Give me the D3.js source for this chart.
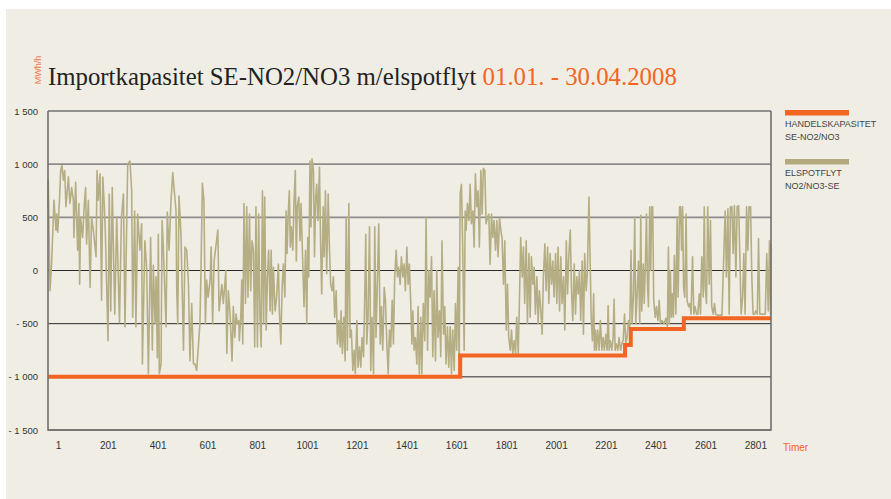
<!DOCTYPE html>
<html><head><meta charset="utf-8">
<script src="https://cdn.jsdelivr.net/npm/d3@7"></script>
<style>
html,body{margin:0;padding:0;background:#fff;}
svg{display:block;}
</style></head>
<body>
<svg id="chart" width="891" height="499"></svg>
<script>
// ---- DATA ----
const titleMain = "Importkapasitet SE-NO2/NO3 m/elspotflyt ";
const titleDate = "01.01. - 30.04.2008";
const yUnit = "MWh/h";
const xUnit = "Timer";
const yTicks = [1500, 1000, 500, 0, -500, -1000, -1500];
const yTickLabels = ["1 500", "1 000", "500", "0", "- 500", "- 1 000", "- 1 500"];
const xTicks = [1, 201, 401, 601, 801, 1001, 1201, 1401, 1601, 1801, 2001, 2201, 2401, 2601, 2801];
const hourDomain = [1, 2904];
const seriesNames = [["HANDELSKAPASITET", "SE-NO2/NO3"], ["ELSPOTFLYT", "NO2/NO3-SE"]];

// Handelskapasitet (trading capacity), step values
const capHours  = [1, 1656, 2318, 2341, 2554, 2904];
const capValues = [-1000, -800, -700, -550, -450, -450];

// Elspotflyt NO2/NO3-SE (hourly flow)
const flowHours = [
1,2,9,16,20,25,33,36,40,47,52,57,63,68,73,83,89,96,103,105,112,120,125,128,132,140,147,152,156,163,170,176,183,194,198,203,210,216,221,226,231,242,247,253,259,269,277,288,296,304,310,321,330,337,341,349,354,361,370,377,380,390,397,404,413,420,424,431,435,440,444,448,455,459,464,475,480,487,495,502,508,515,518,522,527,535,545,551,558,565,571,578,585,591,598,611,615,621,627,633,638,644,652,656,662,668,683,688,699,705,715,719,725,732,
740,745,751,756,761,767,769,775,779,783,788,794,799,804,810,815,820,826,831,836,842,847,852,857,862,867,871,877,882,887,893,897,902,906,913,919,926,930,936,941,946,952,957,961,965,970,974,978,984,989,994,998,1002,1008,1013,1017,1024,1029,1035,1040,1044,1048,1053,1057,1061,1067,1071,1076,1080,1085,1091,1096,1100,1106,1110,1115,1120,1126,1131,1136,1142,1147,1152,1158,1163,1169,1174,1178,1183,1189,1194,1198,1203,1209,1214,1219,1225,1230,1235,1241,1246,1252,1257,1262,1268,1273,1277,1281,1286,1292,1297,1302,1308,1313,1318,1324,1329,1335,1340,1345,1351,1356,1361,1367,1372,1377,1383,1388,1393,1399,1404,1409,1415,1420,1426,1431,1436,1442,1447,1452,
1458,1462,1466,1471,1476,1482,1487,1492,1498,1502,1508,1514,1519,1525,1530,1535,1541,1546,1551,1557,1562,1567,1573,1578,1583,1589,1594,1599,1605,1610,1616,1621,1626,1632,1637,1642,1648,1652,1656,1661,1666,1672,1676,1680,1685,1691,1696,1701,1707,1712,1717,1723,1728,1733,1739,1744,1749,1755,1760,1766,1771,1776,1782,1787,1792,1798,1803,1808,1814,1819,1824,1830,1835,1841,1846,1851,1857,1862,1867,1873,1878,1883,1889,1894,1899,1905,1910,1915,1921,1926,1932,1937,1942,1948,1953,1958,1964,1969,1974,1980,1985,1990,1996,2001,2007,2012,2017,2023,2028,2033,2039,2044,2049,2055,2060,2065,2071,2076,2082,2087,2092,2098,2103,2108,2114,2119,2124,2130,2135,2140,2146,2151,2156,2162,2167,2173,
2182,2187,2192,2195,2199,2203,2208,2214,2219,2225,2230,2235,2241,2246,2250,2254,2259,2265,2270,2274,2278,2283,2289,2294,2300,2305,2310,2316,2321,2326,2332,2337,2342,2346,2352,2357,2361,2366,2372,2377,2381,2385,2391,2395,2400,2404,2408,2412,2417,2421,2425,2429,2433,2439,2444,2450,2455,2460,2466,2474,2482,2488,2492,2496,2500,2504,2508,2512,2516,2522,2527,2531,2537,2541,2545,2549,2553,2558,2563,2567,2573,2578,2583,2589,2594,2599,2605,2610,2616,2621,2626,2632,2636,2640,2645,2650,2656,2661,2666,2672,2677,2682,2688,2693,2707,2720,2725,2731,2736,2741,2747,2752,2757,2763,2768,2774,2779,2784,2790,2795,2800,2806,2811,2816,2822,2827,2832,2838,2843,2849,2854,2859,2867,2881,2887,2893,2898,2902,2904];
const flowValues = [
600,850,-190,90,350,660,380,530,360,660,940,990,850,940,600,880,630,780,660,310,830,190,630,-130,500,310,630,780,250,660,-160,500,380,130,940,660,910,-280,880,660,380,-660,720,-380,780,-410,500,-490,500,720,-530,1000,1030,750,-440,560,-530,530,190,440,-880,280,30,-970,310,-750,50,-500,-60,-820,340,-970,-880,470,220,-530,550,190,660,920,750,560,-190,-500,700,340,-750,220,190,-130,-850,-310,-880,-880,-940,-500,-30,820,660,-500,-90,-250,-90,220,-500,90,380,-380,-130,-310,0,-780,-190,-410,
-850,-340,-630,-410,-500,-470,-660,-440,-90,-690,630,-310,600,-250,530,-190,280,190,-720,600,-720,530,-440,-720,750,-500,690,-560,-60,190,-380,190,-410,30,-380,-250,60,-380,-690,-160,60,-250,560,160,500,750,220,410,190,660,940,90,600,690,280,630,60,-340,190,-500,310,-60,1030,410,1050,940,130,690,810,470,970,190,-220,600,130,750,-30,720,220,-130,-190,-60,-440,-190,-690,-470,-720,-380,-780,-440,-850,500,-750,630,-630,-560,-940,-750,-970,-470,-910,-720,-910,-630,-810,-220,340,-690,-440,410,-940,-440,-970,410,-630,-60,440,-690,-340,-750,-160,-280,-660,-970,-560,-720,-280,-690,-60,190,-60,30,-130,130,-60,60,-190,220,-130,60,
-340,-690,-380,-750,-630,-880,-340,-970,-440,-970,-310,-660,500,-750,0,-250,130,-810,-190,-850,0,-630,-380,-810,280,-600,-340,-880,-530,-910,-530,-970,-560,-940,-310,-750,30,-940,720,810,250,-750,560,380,630,470,810,440,560,220,910,600,750,220,940,530,960,940,440,500,530,60,530,310,470,190,470,130,490,380,310,-130,280,-560,-130,-630,-750,-560,-780,-660,-780,-440,-780,-280,310,-60,220,-310,280,-500,160,-440,130,-130,30,-410,-60,-500,-190,-380,-600,-60,250,-190,220,-310,160,-130,90,-250,160,-310,220,-380,130,-310,-60,-560,280,-220,130,380,-190,-470,60,-410,-60,-220,0,-470,90,-600,160,-190,0,690,
-440,-660,-220,-750,-560,-750,-560,-750,-470,-750,-630,-750,-600,-750,-330,-750,-660,-750,-630,-270,-750,-690,-750,-630,-750,-690,-660,-410,-690,-630,-470,-530,190,-500,-220,500,-500,-250,90,-500,520,-380,60,-310,90,530,-130,-340,600,0,600,600,-280,-440,-340,-470,-280,-500,-470,-500,-450,-530,220,-500,0,-440,-220,-440,140,-410,500,-250,600,600,190,600,-160,-250,530,-280,-340,-310,-410,130,-410,-340,-410,-410,-220,-410,130,-250,600,-160,-310,600,-130,470,-340,-410,-310,-410,-420,-420,-420,560,-60,580,-410,600,600,160,610,-60,600,610,130,-410,-250,160,-410,600,190,600,600,-60,-410,-410,-380,-410,300,-410,-410,-410,160,-380,280,-410,250];

// ---- LAYOUT ----
const svg = d3.select("#chart");
const W = 891, H = 499;
const plot = {left: 48, right: 771, top: 111, bottom: 430};
const C = {bg: "#f0ede5", orange: "#f26522", flow: "#b5ae84", text: "#333"};

svg.append("rect").attr("x", 6).attr("y", 9).attr("width", W - 6).attr("height", H - 9).attr("fill", C.bg);

const x = d3.scaleLinear().domain(hourDomain).range([plot.left, plot.right]);
const y = d3.scaleLinear().domain([-1500, 1500]).range([plot.bottom, plot.top]);

// gridlines
const grid = svg.append("g");
grid.selectAll("line").data(yTicks).join("line")
  .attr("x1", plot.left).attr("x2", plot.right)
  .attr("y1", d => y(d)).attr("y2", d => y(d))
  .attr("stroke", d => (d === 1000 || d === 500) ? "#8c8c8c" : (d === 1500 || d === -1500 ? "#707070" : "#2a2a2a"))
  .attr("stroke-width", d => (d === 1000 || d === 500 || d === 1500 || d === -1500) ? 1.6 : 1);

// y axis labels
const yAxis = d3.axisLeft(y).tickValues(yTicks).tickSize(0).tickPadding(10)
  .tickFormat((d, i) => yTickLabels[i]);
const gy = svg.append("g").attr("transform", `translate(${plot.left},0)`).call(yAxis);
gy.select(".domain").remove();
gy.selectAll("text").attr("font-family", "Liberation Sans, Arial, sans-serif").attr("font-size", 9.5).attr("fill", C.text);

// x axis labels
const xAxis = d3.axisBottom(x).tickValues(xTicks).tickSize(0).tickPadding(12).tickFormat(d3.format("d"));
const gx = svg.append("g").attr("transform", `translate(0,${plot.bottom})`).call(xAxis);
gx.select(".domain").remove();
gx.selectAll("text").attr("font-family", "Liberation Sans, Arial, sans-serif").attr("font-size", 10)
  .attr("fill", C.text).attr("dx", 10);

// flow line
const flowData = flowHours.map((h, i) => [h, flowValues[i]]);
svg.append("path").datum(flowData)
  .attr("fill", "none").attr("stroke", C.flow).attr("stroke-width", 1.6).attr("stroke-linejoin", "round")
  .attr("d", d3.line().x(d => x(d[0])).y(d => y(d[1])));

// capacity step line
const capData = capHours.map((h, i) => [h, capValues[i]]);
svg.append("path").datum(capData)
  .attr("fill", "none").attr("stroke", C.orange).attr("stroke-width", 4)
  .attr("d", d3.line().curve(d3.curveStepAfter).x(d => x(d[0])).y(d => y(d[1])));

// plot frame (left, bottom, right)
svg.append("path")
  .attr("d", `M${plot.left},${plot.top}V${plot.bottom}H${plot.right}V${plot.top}`)
  .attr("fill", "none").attr("stroke", "#6e6e6e").attr("stroke-width", 1.6);

// x unit label
svg.append("text").attr("x", plot.right + 12).attr("y", plot.bottom + 20.5)
  .attr("font-family", "Liberation Sans, Arial, sans-serif").attr("font-size", 10)
  .attr("fill", C.orange).text(xUnit);

// y unit label (rotated)
svg.append("text").attr("transform", "translate(40.5,70) rotate(-90)")
  .attr("text-anchor", "middle")
  .attr("font-family", "Liberation Sans, Arial, sans-serif").attr("font-size", 9)
  .attr("fill", "#f47a4a").text(yUnit);

// title
const title = svg.append("text").attr("x", plot.left).attr("y", 85)
  .attr("font-family", "Liberation Serif, DejaVu Serif, serif").attr("font-size", 24);
title.append("tspan").attr("fill", "#222").text(titleMain);
title.append("tspan").attr("fill", C.orange).text(titleDate);
const tw = title.node().getComputedTextLength();
title.attr("font-size", 24 * 629 / tw);

// legend
const legend = svg.append("g").attr("transform", "translate(785,0)");
const legendColors = [C.orange, "#b3ab7d"];
const legendTop = [110, 159];
seriesNames.forEach((lines, i) => {
  legend.append("rect").attr("x", 0).attr("y", legendTop[i]).attr("width", 64).attr("height", 5.5)
    .attr("fill", legendColors[i]);
  lines.forEach((t, j) => {
    legend.append("text").attr("x", 0).attr("y", legendTop[i] + 17 + j * 12.5)
      .attr("font-family", "Liberation Sans, Arial, sans-serif").attr("font-size", 9)
      .attr("fill", "#444").text(t);
  });
});
</script>
</body></html>
